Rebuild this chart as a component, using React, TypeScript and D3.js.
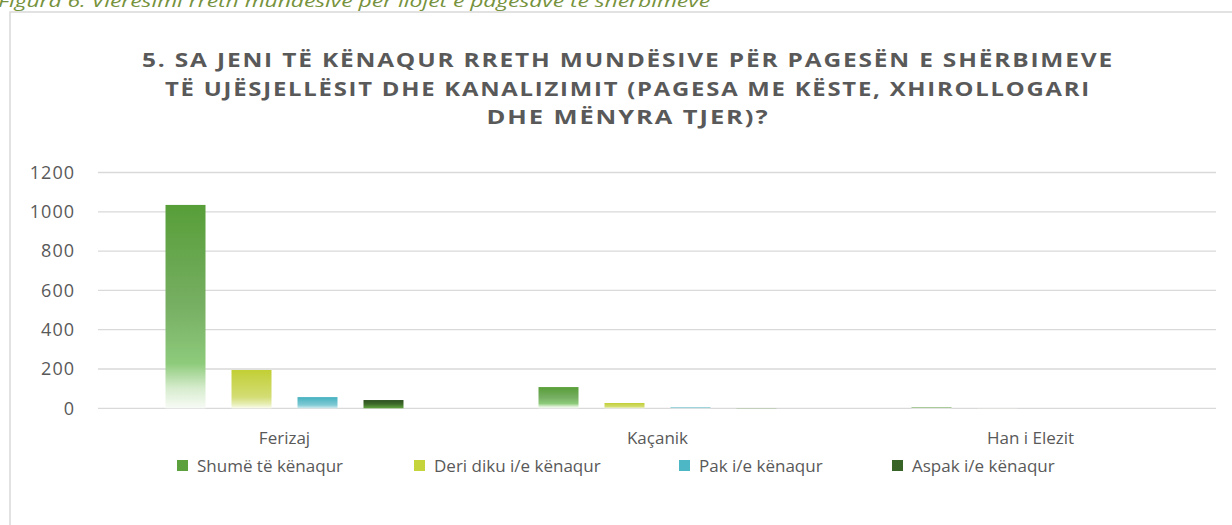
import React, { useEffect, useRef } from "react";
import * as d3 from "d3";

const categories = ["Ferizaj", "Kaçanik", "Han i Elezit"];
const seriesNames = [
  "Shumë të kënaqur",
  "Deri diku i/e kënaqur",
  "Pak i/e kënaqur",
  "Aspak i/e kënaqur",
];
const shumeValues = [1035, 108, 4];
const deriValues = [195, 27, 1];
const pakValues = [57, 4, 0];
const aspakValues = [42, 1, 0];
const yTicks = [0, 200, 400, 600, 800, 1000, 1200];
const titleLines = [
  "5. SA JENI TË KËNAQUR RRETH MUNDËSIVE PËR PAGESËN E SHËRBIMEVE",
  "TË UJËSJELLËSIT DHE KANALIZIMIT (PAGESA ME KËSTE, XHIROLLOGARI",
  "DHE MËNYRA TJER)?",
];
const caption =
  "Figura 6: Vlerësimi rreth mundësive për llojet e pagesave të shërbimeve";

// gradient stops per series (top -> bottom)
const gradients = [
  [
    [0, "#579E38"],
    [0.5, "#77AF63"],
    [0.78, "#8ECB7B"],
    [0.9, "#D6ECCD"],
    [1, "#F8FBF6"],
  ],
  [
    [0, "#C2CF34"],
    [0.7, "#D3DD74"],
    [0.88, "#E6EDB0"],
    [1, "#FAFBEE"],
  ],
  [
    [0, "#46B1BF"],
    [0.7, "#7FCAD4"],
    [1, "#D2ECF0"],
  ],
  [
    [0, "#2C4F1E"],
    [0.5, "#3D6C2A"],
    [1, "#62A541"],
  ],
];
const legendColors = ["#5DA03E", "#C6D43C", "#4DB7C5", "#386527"];

const W = 1232;
const H = 525;

const App: React.FC = () => {
  const svgRef = useRef<SVGSVGElement | null>(null);

  useEffect(() => {
    if (!svgRef.current) return;
    const svg = d3.select(svgRef.current);
    svg.selectAll("*").remove();

    const values = [shumeValues, deriValues, pakValues, aspakValues];
    const font = "'Open Sans', 'Noto Sans', sans-serif";
    const grey = "#595959";

    // gradients
    const defs = svg.append("defs");
    gradients.forEach((stops, i) => {
      const g = defs
        .append("linearGradient")
        .attr("id", `grad${i}`)
        .attr("x1", 0)
        .attr("y1", 0)
        .attr("x2", 0)
        .attr("y2", 1);
      stops.forEach(([o, c]) => {
        g.append("stop").attr("offset", o as number).attr("stop-color", c as string);
      });
    });

    // caption (clipped at top, like the source)
    svg
      .append("text")
      .attr("x", -2)
      .attr("y", 7)
      .attr("font-family", font)
      .attr("font-style", "italic")
      .attr("font-size", 17)
      .attr("textLength", 712)
      .attr("lengthAdjust", "spacingAndGlyphs")
      .attr("fill", "#76923C")
      .text(caption);

    // chart frame
    svg
      .append("rect")
      .attr("x", 10)
      .attr("y", 12)
      .attr("width", 1240)
      .attr("height", 530)
      .attr("fill", "none")
      .attr("stroke", "#d9d9d9")
      .attr("stroke-width", 1.5);

    // title
    const titleWidths = [972, 926, 283];
    titleLines.forEach((line, i) => {
      svg
        .append("text")
        .attr("x", 628)
        .attr("y", 67 + i * 28.5)
        .attr("text-anchor", "middle")
        .attr("font-family", font)
        .attr("font-weight", 700)
        .attr("font-size", 20)
        .attr("letter-spacing", 1.5)
        .attr("textLength", titleWidths[i])
        .attr("lengthAdjust", "spacingAndGlyphs")
        .attr("fill", grey)
        .text(line);
    });

    const yScale = d3.scaleLinear().domain([0, 1200]).range([408.3, 172.5]);
    const x0 = d3.scaleBand<string>().domain(categories).range([98, 1217]);
    const x1 = d3
      .scaleBand<string>()
      .domain(seriesNames)
      .range([0, x0.bandwidth()])
      .paddingInner(0.394)
      .paddingOuter(1.023);

    // gridlines
    svg
      .append("g")
      .selectAll("line")
      .data(yTicks)
      .enter()
      .append("line")
      .attr("x1", 98)
      .attr("x2", 1216)
      .attr("y1", (d) => yScale(d))
      .attr("y2", (d) => yScale(d))
      .attr("stroke", "#d9d9d9")
      .attr("stroke-width", 1.3);

    // y labels
    svg
      .append("g")
      .selectAll("text")
      .data(yTicks)
      .enter()
      .append("text")
      .attr("x", 75)
      .attr("y", (d) => yScale(d))
      .attr("dy", "0.35em")
      .attr("text-anchor", "end")
      .attr("font-family", font)
      .attr("font-size", 18)
      .attr("letter-spacing", 1)
      .attr("fill", grey)
      .text((d) => d);

    // bars
    categories.forEach((cat, ci) => {
      const g = svg.append("g").attr("transform", `translate(${x0(cat)},0)`);
      seriesNames.forEach((s, si) => {
        const v = values[si][ci];
        if (v <= 0) return;
        g.append("rect")
          .attr("x", x1(s)!)
          .attr("y", yScale(v))
          .attr("width", x1.bandwidth())
          .attr("height", yScale(0) - yScale(v))
          .attr("fill", `url(#grad${si})`);
      });
    });

    // category labels
    svg
      .append("g")
      .selectAll("text")
      .data(categories)
      .enter()
      .append("text")
      .attr("x", (d) => x0(d)! + x0.bandwidth() / 2)
      .attr("y", 438)
      .attr("dy", "0.35em")
      .attr("text-anchor", "middle")
      .attr("font-family", font)
      .attr("font-size", 17)
      .attr("fill", grey)
      .text((d) => d);

    // legend
    const legendX = [177, 414, 679, 892];
    seriesNames.forEach((s, i) => {
      svg
        .append("rect")
        .attr("x", legendX[i])
        .attr("y", 460)
        .attr("width", 11)
        .attr("height", 11)
        .attr("fill", legendColors[i]);
      svg
        .append("text")
        .attr("x", legendX[i] + 20)
        .attr("y", 466)
        .attr("dy", "0.35em")
        .attr("font-family", font)
        .attr("font-size", 17)
        .attr("fill", grey)
        .text(s);
    });
  }, []);

  return (
    <div style={{ position: "fixed", left: 0, top: 0, width: W, height: H, background: "#fff" }}>
      <svg ref={svgRef} width={W} height={H} style={{ display: "block" }}></svg>
    </div>
  );
};

export default App;
